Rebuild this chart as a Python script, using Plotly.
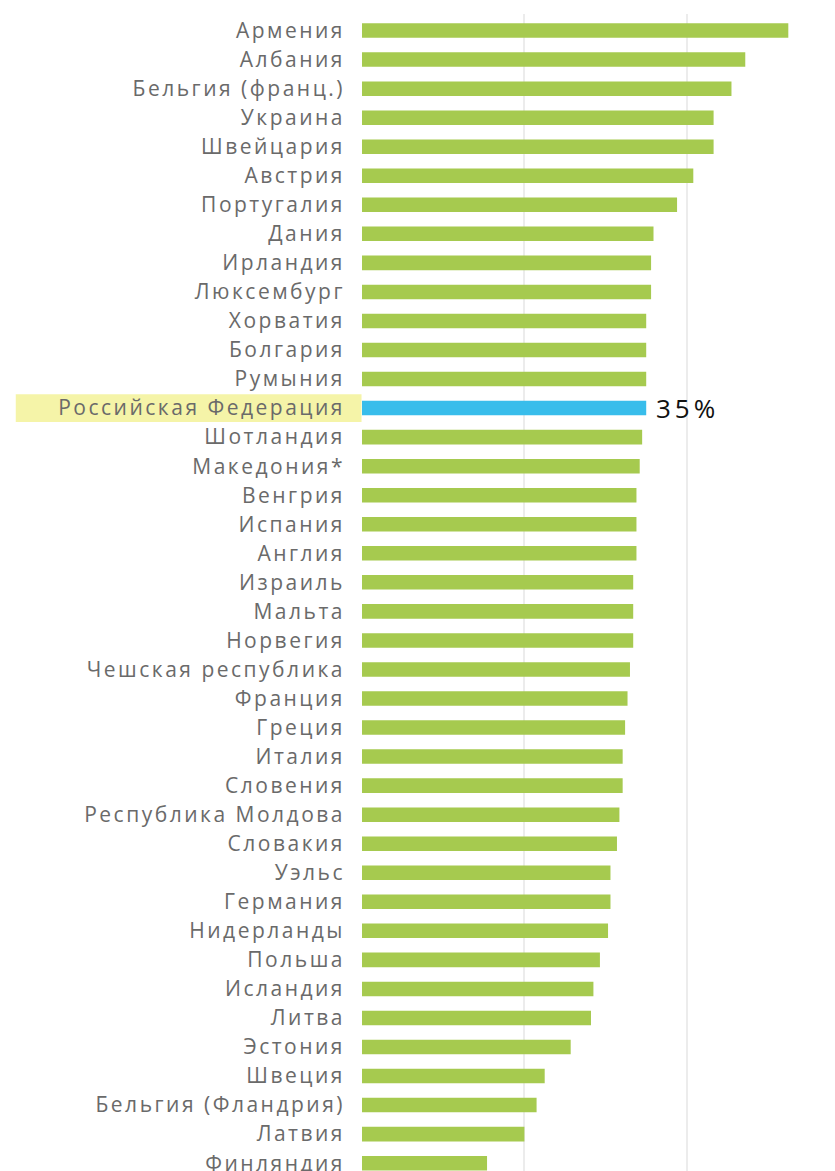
import plotly.graph_objects as go

countries = [
    "Армения", "Албания", "Бельгия (франц.)", "Украина", "Швейцария",
    "Австрия", "Португалия", "Дания", "Ирландия", "Люксембург",
    "Хорватия", "Болгария", "Румыния", "Российская Федерация", "Шотландия",
    "Македония*", "Венгрия", "Испания", "Англия", "Израиль",
    "Мальта", "Норвегия", "Чешская республика", "Франция", "Греция",
    "Италия", "Словения", "Республика Молдова", "Словакия", "Уэльс",
    "Германия", "Нидерланды", "Польша", "Исландия", "Литва",
    "Эстония", "Швеция", "Бельгия (Фландрия)", "Латвия", "Финляндия",
]
values = [
    52.5, 47.2, 45.5, 43.3, 43.3,
    40.8, 38.8, 35.9, 35.6, 35.6,
    35.0, 35.0, 35.0, 35.0, 34.5,
    34.2, 33.8, 33.8, 33.8, 33.4,
    33.4, 33.4, 33.0, 32.7, 32.4,
    32.1, 32.1, 31.7, 31.4, 30.6,
    30.6, 30.3, 29.3, 28.5, 28.2,
    25.7, 22.5, 21.5, 20.0, 15.4,
]
highlight = "Российская Федерация"
highlight_label = "35%"

GREEN = "#a6ca4f"
BLUE = "#38bdeb"
colors = [BLUE if c == highlight else GREEN for c in countries]
hi_idx = countries.index(highlight)

fig = go.Figure(
    go.Bar(
        x=values,
        y=countries,
        orientation="h",
        marker=dict(color=colors, line=dict(width=0)),
        width=0.5,
        hoverinfo="skip",
    )
)

# yellow band behind the highlighted country's label
fig.add_shape(
    type="rect",
    xref="paper", yref="y",
    x0=-0.732, x1=-0.001,
    y0=hi_idx - 0.48, y1=hi_idx + 0.48,
    fillcolor="#f5f4a8", line=dict(width=0), layer="below",
)

fig.add_annotation(
    x=values[hi_idx], y=highlight, text=highlight_label,
    xanchor="left", yanchor="middle", xshift=14, yshift=0,
    showarrow=False, font=dict(family="Open Sans", size=26, color="#111111"),
)

fig.update_layout(
    width=835, height=1171,
    margin=dict(l=362, r=0, t=14, b=0),
    paper_bgcolor="white", plot_bgcolor="white",
    showlegend=False,
    bargap=0.5,
    font=dict(family="Open Sans", size=21, color="#6a6a6a"),
    xaxis=dict(
        range=[0, 58.25], tick0=0, dtick=20,
        showgrid=True, gridcolor="#ececec", gridwidth=2,
        showticklabels=False, zeroline=False, showline=False, ticks="",
        automargin=False,
    ),
    yaxis=dict(
        type="category",
        categoryorder="array", categoryarray=countries,
        range=[39.27, -0.57],
        showgrid=False, zeroline=False, showline=False, ticks="",
        ticklabelstandoff=16,
        automargin=False,
        tickfont=dict(family="Open Sans", size=21, color="#6a6a6a"),
    ),
)

# widen the tracking of the category labels and the value label
tracking = """
var gd = document.getElementById('{plot_id}');
function track() {
  gd.querySelectorAll('.ytick text').forEach(function (t) { t.style.letterSpacing = '2.5px'; });
  gd.querySelectorAll('.annotation-text').forEach(function (t) { t.style.letterSpacing = '4px'; });
}
track();
gd.on('plotly_afterplot', track);
setTimeout(track, 0);
"""

fig.write_html("out.html", post_script=tracking)
